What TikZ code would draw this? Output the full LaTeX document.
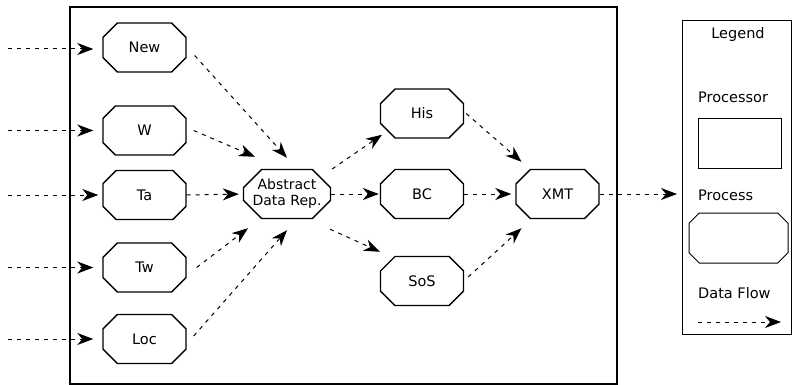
\documentclass[tikz,border=0pt]{standalone}
\usepackage{fontspec}
\setmainfont{DejaVu Sans}
\usetikzlibrary{shapes.misc,arrows.meta}
\begin{document}
\begin{tikzpicture}[x=1pt,y=-1pt,
  every node/.style={font=\fontsize{14.5}{16}\selectfont},
  proc/.style={chamfered rectangle, chamfered rectangle xsep=9pt,
    chamfered rectangle ysep=9pt, draw, line width=1.4pt, inner sep=0pt,
    minimum width=83pt, minimum height=49pt, align=center},
  flow/.style={line width=1pt, dash pattern=on 4pt off 5pt,
    -{Stealth[length=16pt,width=12pt,inset=5pt,line width=1.2pt]}},
  frame/.style={draw, line width=1.4pt}]
\useasboundingbox (0,0) rectangle (792,385);

% system boundary and legend box
\draw[frame] (70,7) rectangle (617,384);
\draw[line width=1pt] (682,21) rectangle (791,334);

% input processes
\node[proc] (New) at (144.5,47.5) {New};
\node[proc] (W)   at (144.5,130.5) {W};
\node[proc] (Ta)  at (144.5,195) {Ta};
\node[proc] (Tw)  at (144.5,267.5) {Tw};
\node[proc] (Loc) at (144.5,339) {Loc};

% central representation and consumers
\node[proc, font=\fontsize{14}{16}\selectfont] (Abs) at (287,194) {Abstract\\Data Rep.};
\node[proc] (His) at (422,113.5) {His};
\node[proc] (BC)  at (422,194) {BC};
\node[proc] (SoS) at (422,281) {SoS};
\node[proc] (XMT) at (557.5,194) {XMT};

% external sources
\coordinate (inNew) at (8,49);
\coordinate (inW)   at (8,130.5);
\coordinate (inTa)  at (8,195);
\coordinate (inTw)  at (8,267.5);
\coordinate (inLoc) at (8,339);
\coordinate (out)   at (682,194);

\draw[flow, shorten >=9pt] (inNew) -- (inNew -| New.west);
\draw[flow, shorten >=9pt] (inW) -- (W.west);
\draw[flow, shorten >=4pt] (inTa) -- (Ta.west);
\draw[flow, shorten >=9pt] (inTw) -- (Tw.west);
\draw[flow, shorten >=9pt] (inLoc) -- (Loc.west);

% flows into the abstract data representation
\draw[flow] ([xshift=8pt,yshift=-8pt]New.east) -- ([yshift=11pt]Abs.north);
\draw[flow] ([xshift=7pt]W.east) -- ([xshift=-32pt,yshift=12pt]Abs.north);
\draw[flow, shorten >=4pt] (Ta.east) -- (Abs.west);
\draw[flow] ([xshift=10pt]Tw.east) -- ([xshift=-39pt,yshift=-9pt]Abs.south);
\draw[flow] ([xshift=7pt,yshift=3pt]Loc.east) -- ([yshift=-11pt]Abs.south);

% flows out of it
\draw[flow] ([xshift=1pt,yshift=25pt]Abs.east) -- ([xshift=-40pt,yshift=4pt]His.south);
\draw[flow, shorten >=1pt] (Abs.east) -- (BC.west);
\draw[flow] ([xshift=43pt,yshift=-10pt]Abs.south) -- ([xshift=-42pt,yshift=4pt]SoS.north);

% flows into the transmitter
\draw[flow] ([xshift=2pt]His.east) -- ([xshift=-36pt,yshift=7pt]XMT.north);
\draw[flow, shorten >=4pt] (BC.east) -- (XMT.west);
\draw[flow] ([xshift=4pt,yshift=4pt]SoS.east) -- ([xshift=-36pt,yshift=-9pt]XMT.south);
\draw[flow, shorten >=5pt] (XMT.east) -- (out);

% legend
\node (lgTitle) at (738,35) {Legend};
\node[anchor=west, inner sep=0pt] (lgProcessor) at (698,97) {Processor};
\node[draw, line width=0.9pt, minimum width=83pt, minimum height=50pt, inner sep=0pt]
  (lgBox) at (739.5,143) {};
\node[anchor=west, inner sep=0pt] (lgProcess) at (698,195) {Process};
\node[proc, minimum width=99pt, minimum height=50pt, line width=1pt] (lgProc) at (738.5,238) {\phantom{X}};
\node[anchor=west, inner sep=0pt] (lgFlow) at (698,293) {Data Flow};
\coordinate (lgA) at (698,322);
\coordinate (lgB) at (781,322);
\draw[flow] (lgA) -- (lgB);
\end{tikzpicture}
\end{document}
